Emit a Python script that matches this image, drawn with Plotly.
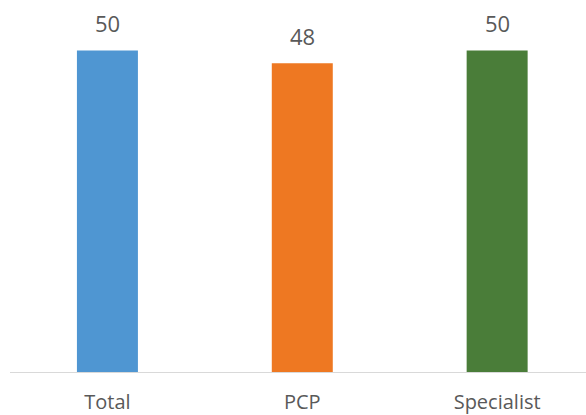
import plotly.graph_objects as go

categories = ["Total", "PCP", "Specialist"]
values = [50, 48, 50]
colors = ["#4F96D2", "#EE7822", "#4A7D39"]

fig = go.Figure()
fig.add_trace(go.Bar(
    x=categories, y=values,
    marker=dict(color=colors, line=dict(width=0)),
    width=0.313,
    hoverinfo="skip",
))

for c, v in zip(categories, values):
    fig.add_annotation(
        x=c, y=v, text=str(v), showarrow=False,
        yanchor="bottom", yshift=10,
        font=dict(family="Open Sans", size=22, color="#595959"),
    )

fig.update_layout(
    width=586, height=415,
    margin=dict(l=10, r=0, t=0, b=41),
    paper_bgcolor="white", plot_bgcolor="white",
    showlegend=False,
    xaxis=dict(
        range=[-0.5, 2.456],
        showline=True, linecolor="#D9D9D9", linewidth=1,
        showgrid=False, zeroline=False, ticks="",
        tickfont=dict(family="Open Sans", size=20, color="#595959"),
        ticklabelstandoff=12,
    ),
    yaxis=dict(
        range=[0, 57.84], visible=False, showgrid=False, zeroline=False,
    ),
)

fig.write_html("out.html")
